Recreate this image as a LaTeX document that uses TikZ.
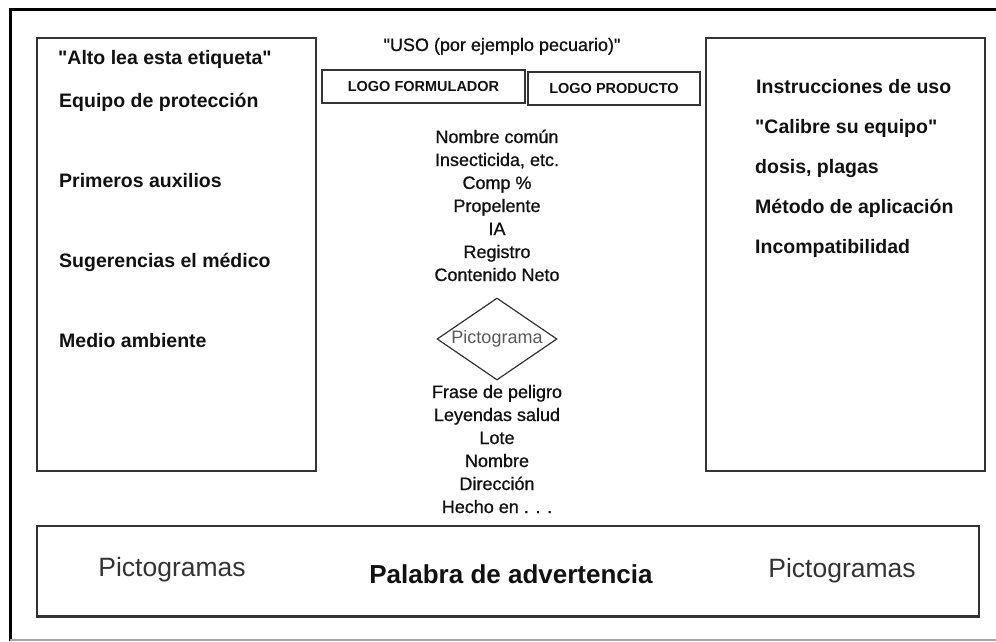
\documentclass[tikz,border=0pt]{standalone}
\usepackage{fontspec}
\setmainfont{Liberation Sans}
\newfontfamily\plainfont{Liberation Sans}
\newfontfamily\midfont[FakeBold=0.8]{Liberation Sans}
\usetikzlibrary{shapes.geometric}
\definecolor{ink}{HTML}{111111}
\definecolor{boxline}{HTML}{333333}
\definecolor{softink}{HTML}{333333}
\tikzset{
  panel/.style={draw=boxline, line width=1.6pt, inner sep=0pt},
  logobox/.style={draw=boxline, line width=1.8pt, inner sep=0pt, font=\bfseries\fontsize{14.5}{15}\selectfont, text=ink},
  sidetext/.style={anchor=base west, inner sep=0pt, font=\plainfont\bfseries\fontsize{19.5}{20}\selectfont, text=ink},
  midtext/.style={anchor=base, inner sep=0pt, font=\midfont\fontsize{18}{20}\selectfont, text=ink},
  bigtext/.style={anchor=base, inner sep=0pt, font=\fontsize{26.5}{28}\selectfont, text=softink},
}
\begin{document}
\begin{tikzpicture}[x=1pt,y=-1pt]
\useasboundingbox (0,0) rectangle (996,642);
% outer frame
\draw[black, line width=3pt] (996,10) -- (10,10) -- (10,641);
\draw[gray!70, line width=1.5pt] (10,640) -- (996,640);

% side panels
\node[panel, minimum width=279pt, minimum height=433pt] (leftbox) at (176.5,254.5) {};
\node[panel, minimum width=279pt, minimum height=433pt] (rightbox) at (845.5,254.5) {};

% left panel texts
\node[sidetext] (l1) at (58,65) {"Alto lea esta etiqueta"};
\node[sidetext] (l2) at (59,107) {Equipo de protección};
\node[sidetext] (l3) at (59,187) {Primeros auxilios};
\node[sidetext] (l4) at (59,267) {Sugerencias el médico};
\node[sidetext] (l5) at (59,347) {Medio ambiente};

% right panel texts
\node[sidetext] (r1) at (756,93) {Instrucciones de uso};
\node[sidetext] (r2) at (755,133) {"Calibre su equipo"};
\node[sidetext] (r3) at (755,173) {dosis, plagas};
\node[sidetext] (r4) at (755,213) {Método de aplicación};
\node[sidetext] (r5) at (755,253) {Incompatibilidad};

% top centre
\node[midtext] (uso) at (502,51) {"USO (por ejemplo pecuario)"};
\node[logobox, minimum width=203pt, minimum height=33pt] (logof) at (423.5,86.5) {LOGO FORMULADOR};
\node[logobox, minimum width=172pt, minimum height=33pt] (logop) at (614,88.5) {LOGO PRODUCTO};

% centre column, upper
\node[midtext] (c1) at (497,143) {Nombre común};
\node[midtext] (c2) at (497,166) {Insecticida, etc.};
\node[midtext] (c3) at (497,189) {Comp \%};
\node[midtext] (c4) at (497,212) {Propelente};
\node[midtext] (c5) at (497,235) {IA};
\node[midtext] (c6) at (497,258) {Registro};
\node[midtext] (c7) at (497,281) {Contenido Neto};

% pictogram diamond
\node[diamond, draw=boxline, line width=1.2pt, shape aspect=1.46, minimum width=120pt, minimum height=82pt, inner sep=0pt, text=black!65, font=\fontsize{18}{20}\selectfont] (picto) at (497,339) {Pictograma};

% centre column, lower
\node[midtext] (d1) at (497,398) {Frase de peligro};
\node[midtext] (d2) at (497,421) {Leyendas salud};
\node[midtext] (d3) at (497,444) {Lote};
\node[midtext] (d4) at (497,467) {Nombre};
\node[midtext] (d5) at (497,490) {Dirección};
\node[midtext] (d6) at (497,513) {Hecho en . . .};

% bottom band
\node[panel, minimum width=942pt, minimum height=90pt] (band) at (508,571) {};
\draw[boxline, line width=2.4pt] (band.south west) -- (band.south east);
\node[bigtext] (p1) at (172,576) {Pictogramas};
\node[bigtext, text=ink, font=\bfseries\fontsize{26}{28}\selectfont] (warn) at (511,583) {Palabra de advertencia};
\node[bigtext] (p2) at (842,577) {Pictogramas};
\end{tikzpicture}
\end{document}
